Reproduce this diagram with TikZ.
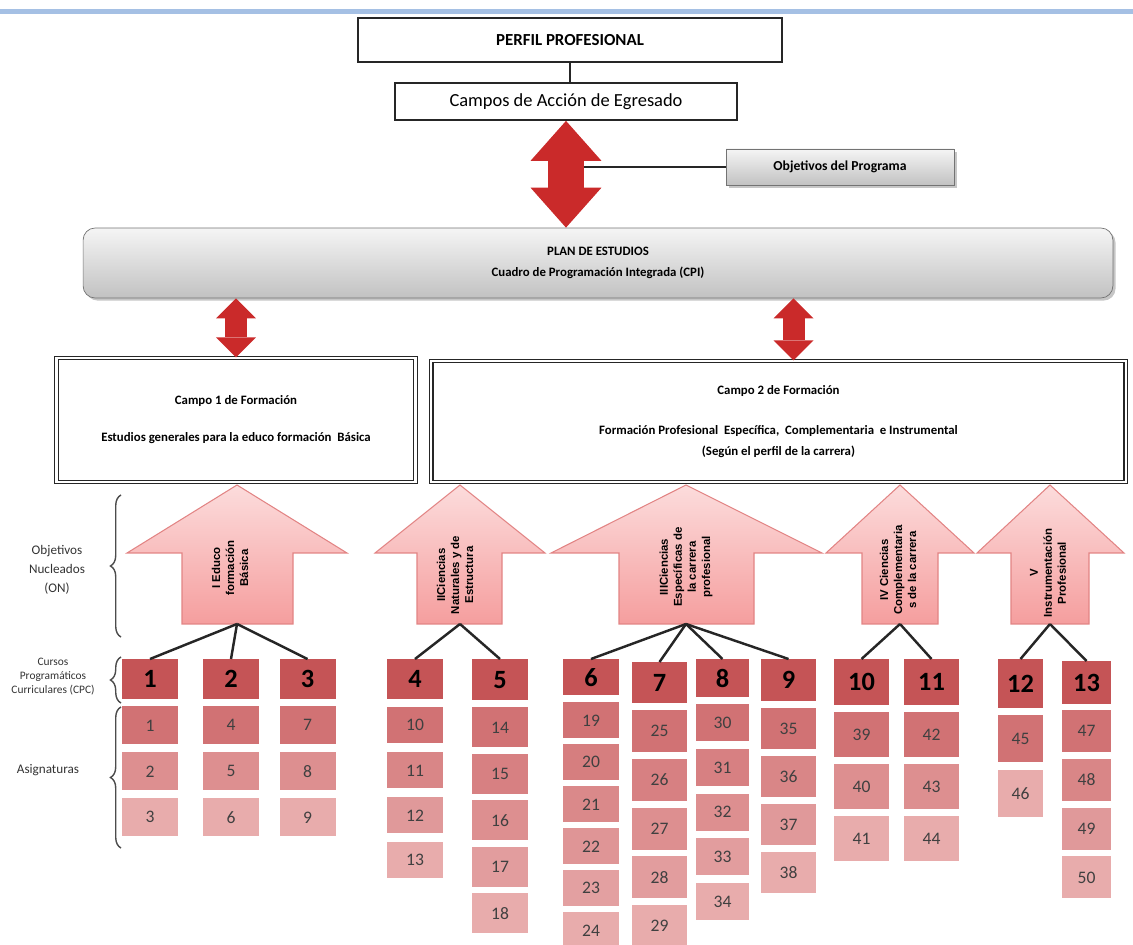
\documentclass[tikz,border=0pt]{standalone}
\usepackage{fontspec}
\setmainfont{Carlito}
\newfontfamily\arrfont{Liberation Sans}
\usetikzlibrary{arrows.meta, positioning, shadows, decorations.pathreplacing, calc}
\definecolor{cpcred}{RGB}{197,84,86}
\definecolor{asigdark}{RGB}{209,114,116}
\definecolor{asiglight}{RGB}{232,172,172}
\definecolor{arrred}{RGB}{202,42,42}
\definecolor{pinktop}{RGB}{252,220,220}
\definecolor{pinkbot}{RGB}{245,158,158}
\definecolor{pinkline}{RGB}{226,132,132}
\definecolor{rulerblue}{RGB}{165,192,228}

\begin{document}
\begin{tikzpicture}[x=0.02cm, y=-0.02cm,
        lbox/.style={rectangle, draw=black!85, line width=1pt, fill=white, inner sep=2pt},
        gbox/.style={rectangle, draw=black!55, top color=black!4, bottom color=black!24,
                     drop shadow={shadow xshift=1.5pt, shadow yshift=-1.5pt, opacity=0.45},
                     inner sep=2pt, align=center},
        cbox/.style={rectangle, draw=black!85, line width=0.8pt, double=white, double distance=1.2pt,
                     fill=white, inner sep=2pt, align=center, font=\fontsize{7.3}{9}\selectfont\bfseries},
        bigarr/.style={arrred, line width=7.2mm,
                       {Triangle[length=8mm, width=14.2mm, line width=0pt]}-{Triangle[length=8mm, width=14.2mm, line width=0pt]}},
        smallarr/.style={arrred, line width=4.4mm,
                         {Triangle[length=4mm, width=8mm, line width=0pt]}-{Triangle[length=4mm, width=8mm, line width=0pt]}},
        uparr/.style={draw=pinkline, line width=0.6pt, top color=pinktop, bottom color=pinkbot},
        arrtxt/.style={rotate=90, align=center, inner sep=0pt, font=\arrfont\bfseries\fontsize{6.5}{8}\selectfont},
        tree/.style={draw=black!85, line width=1.4pt},
        brc/.style={draw=black!70, line width=0.8pt, decorate, decoration={brace, amplitude=6pt}},
        sidelab/.style={align=center, inner sep=0pt, text=black!80},
        cpc/.style={rectangle, fill=cpcred, inner sep=0pt, anchor=north, font=\fontsize{15}{15}\selectfont\bfseries},
        asig/.style={rectangle, inner sep=0pt, anchor=north, text=black!75, font=\fontsize{10}{10}\selectfont}
    ]
    \useasboundingbox (0,0) rectangle (1133,945);
    \fill[rulerblue] (0,9) rectangle (1133,14);

    \node[lbox, minimum width=8.48cm, minimum height=0.88cm, font=\fontsize{9.6}{11}\selectfont\bfseries]
          (perfil) at (570,40) {PERFIL PROFESIONAL};
    \node[lbox, minimum width=6.84cm, minimum height=0.74cm, font=\fontsize{10.5}{12}\selectfont]
          (campos) at (566,101.5) {Campos de Acción de Egresado};
    \node[gbox, minimum width=4.56cm, minimum height=0.72cm, font=\fontsize{7.8}{9}\selectfont\bfseries]
          (objprog) at (840,167) {Objetivos del Programa};
    \node[gbox, rounded corners=0.24cm, minimum width=20.6cm, minimum height=1.4cm,
          font=\fontsize{7.3}{9}\selectfont\bfseries]
          (plan) at (598,263) {PLAN DE ESTUDIOS\\[3pt]Cuadro de Programación Integrada (CPI)};
    \node[cbox, minimum width=7.18cm, minimum height=2.48cm]
          (campo1) at (236,420) {Campo 1 de Formación\\[12pt]Estudios generales para la educo formación ~Básica};
    \node[cbox, minimum width=13.9cm, minimum height=2.42cm]
          (campo2) at (778.5,421.5) {Campo 2 de Formación\\[13.5pt]Formación Profesional ~Específica, ~Complementaria ~e Instrumental\\[3pt](Según el perfil de la carrera)};

    \draw[line width=1pt, black!85] (perfil.south) -- (perfil.south |- campos.north);
    \draw[line width=1.6pt, black!85] (objprog.west) -- (objprog.west -| campos.south);
    \draw[bigarr] (campos.south) -- (campos.south |- plan.north);
    \draw[smallarr] (plan.south -| campo1.north) -- (campo1.north);
    \draw[smallarr] ([xshift=0.3cm]campo2.north |- plan.south) -- ([xshift=0.3cm]campo2.north);

    \draw[uparr] (127,553) -- (237,485) -- (347,553) -- (293,553) -- (293,624) -- (182,624) -- (182,553) -- cycle;
    \draw[uparr] (375,553) -- (460,485) -- (545,553) -- (502,553) -- (502,624) -- (417,624) -- (417,553) -- cycle;
    \draw[uparr] (551,553) -- (686,485) -- (822,553) -- (754,553) -- (754,624) -- (619,624) -- (619,553) -- cycle;
    \draw[uparr] (826,553) -- (900,485) -- (974,553) -- (938,553) -- (938,624) -- (862,624) -- (862,553) -- cycle;
    \draw[uparr] (977,553) -- (1050,485) -- (1124,553) -- (1089,553) -- (1089,624) -- (1011,624) -- (1011,553) -- cycle;
    \coordinate (aI) at (237,624);
    \coordinate (aII) at (460,624);
    \coordinate (aIII) at (686,624);
    \coordinate (aIV) at (900,624);
    \coordinate (aV) at (1050,624);

    \node[arrtxt] (tI) at (230,568) {I Educo\\formación\\Básica};
    \node[arrtxt] (tII) at (455,575) {IICiencias\\Naturales y de\\Estructura};
    \node[arrtxt] (tIII) at (686,567) {IIICiencias\\Específicas de\\la carrera\\profesional};
    \node[arrtxt] (tIV) at (898,570) {IV Ciencias\\Complementaria\\s de la carrera};
    \node[arrtxt] (tV) at (1048,573) {V\\Instrumentación\\Profesional};

    \node[sidelab, font=\fontsize{7.5}{11}\selectfont] (labON) at (57,570) {Objetivos\\Nucleados\\(ON)};
    \node[sidelab, font=\fontsize{6.5}{8}\selectfont] (labCPC) at (53,677) {Cursos\\Programáticos\\Curriculares (CPC)};
    \node[sidelab, font=\fontsize{7.5}{9}\selectfont] (labAsig) at (48,770) {Asignaturas};
    \draw[brc] (121,637) -- (121,495);
    \draw[brc] (121,703) -- (121,657);
    \draw[brc] (121,848) -- (121,707);

    \foreach \cx/\w/\ct/\ch/\c/\at/\ah/\as/\n/\nums in {
        150/56/659/40/1/706/38/46/3/{1,2,3},
        231/56/659/40/2/706/38/46/3/{4,5,6},
        307.5/56/659/40/3/706/38/46/3/{7,8,9},
        415/56/659/40/4/707/36/45/4/{10,11,12,13},
        500/56/659/41/5/707/40/46.5/5/{14,15,16,17,18},
        591/56/659/36/6/702/36/42/6/{19,20,21,22,23,24},
        659.5/55/662/41/7/710/42/48.7/5/{25,26,27,28,29},
        722.5/53/659/38/8/704/37/44.7/5/{30,31,32,33,34},
        788.5/55/659/42/9/708/41/48/4/{35,36,37,38},
        861.5/55/659/46/10/712/45/52/3/{39,40,41},
        931.5/55/659/46/11/712/45/52/3/{42,43,44},
        1020.5/45/659/49/12/715/47/55/2/{45,46},
        1086.5/49/661/43/13/710/42/48.7/4/{47,48,49,50}}
    {
        \node[cpc, minimum width=\w*0.02cm, minimum height=\ch*0.02cm] (cpc\c) at (\cx,\ct) {\c};
        \foreach \a [count=\i] in \nums {
            \pgfmathtruncatemacro\pct{100-100*(\i-1)/(\n-1)}
            \node[asig, fill=asigdark!\pct!asiglight, minimum width=\w*0.02cm, minimum height=\ah*0.02cm]
                  (as\a) at (\cx,\at+\as*\i-\as) {\a};
        }
    }

    \foreach \c in {1,2,3} \draw[tree] (aI) -- (cpc\c.north);
    \foreach \c in {4,5} \draw[tree] (aII) -- (cpc\c.north);
    \foreach \c in {6,7,8,9} \draw[tree] (aIII) -- (cpc\c.north);
    \foreach \c in {10,11} \draw[tree] (aIV) -- (cpc\c.north);
    \foreach \c in {12,13} \draw[tree] (aV) -- (cpc\c.north);
\end{tikzpicture}
\end{document}
